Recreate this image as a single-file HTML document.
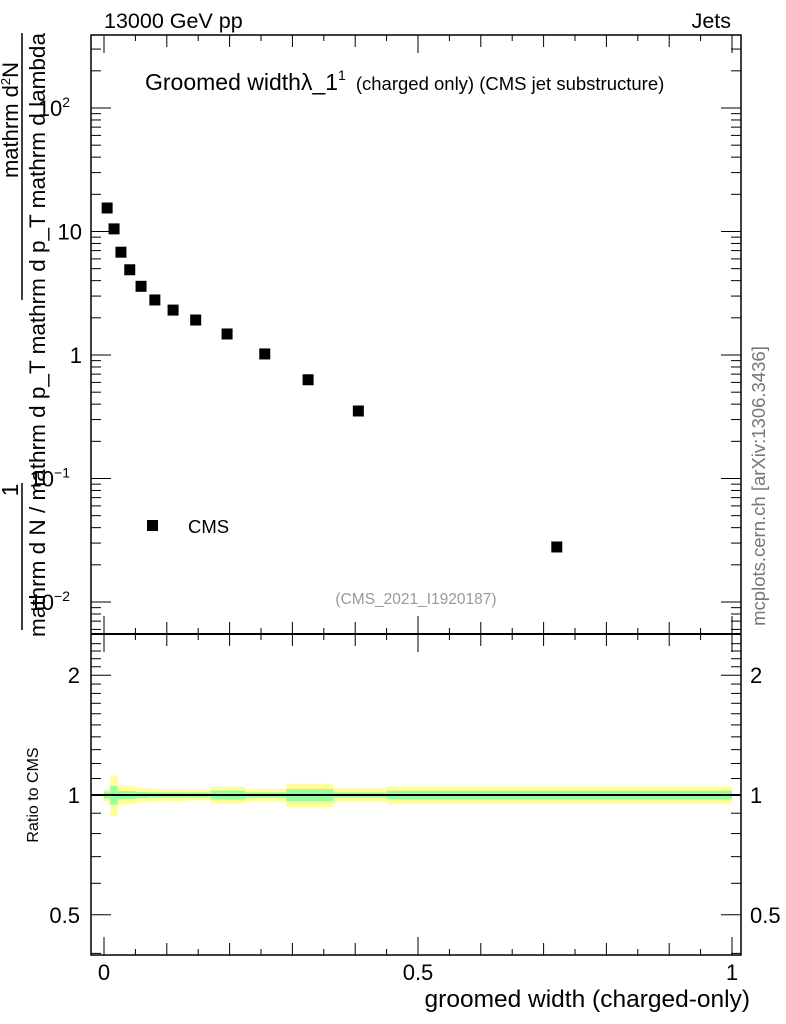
<!DOCTYPE html>
<html><head><meta charset="utf-8"><style>
body{margin:0;background:#fff}
svg{display:block;font-family:"Liberation Sans",sans-serif}
</style></head><body>
<svg id="chart" width="786" height="1024" viewBox="0 0 786 1024">
<g id="bands"></g>
<g id="axes"></g>
<g id="points"></g>
<text x="104" y="28" font-size="21.5">13000 GeV pp</text>
<text x="731" y="28" font-size="21.5" text-anchor="end">Jets</text>
<text x="145" y="90" font-size="23">Groomed widthλ_1<tspan font-size="14" dy="-10">1</tspan><tspan font-size="18.5" dy="10" dx="10">(charged only) (CMS jet substructure)</tspan></text>
<rect x="147" y="520" width="11" height="11" fill="#000"/>
<text x="188" y="533" font-size="18.5">CMS</text>
<text x="416" y="604" font-size="15.5" fill="#999" text-anchor="middle">(CMS_2021_I1920187)</text>
<text transform="translate(765,486) rotate(-90)" font-size="18.5" fill="#777" text-anchor="middle">mcplots.cern.ch [arXiv:1306.3436]</text>
<text x="750" y="1007" font-size="24.5" text-anchor="end">groomed width (charged-only)</text>
<text transform="translate(38,795) rotate(-90)" font-size="16" text-anchor="middle">Ratio to CMS</text>
<g>
<line x1="22" y1="483" x2="22" y2="630" stroke="#000" stroke-width="1.5"/>
<line x1="22" y1="33" x2="22" y2="300" stroke="#000" stroke-width="1.5"/>
<text transform="translate(18,490) rotate(-90)" font-size="23" text-anchor="middle">1</text>
<text transform="translate(18,120) rotate(-90)" font-size="22" text-anchor="middle">mathrm d<tspan font-size="13" dy="-8">2</tspan><tspan dy="8">N</tspan></text>
<text transform="translate(45,637) rotate(-90)" font-size="22" textLength="604" lengthAdjust="spacingAndGlyphs">mathrm d N / mathrm d p_T mathrm d p_T mathrm d lambda</text>
</g>
</svg>
<script>
const xs=[0.005,0.016,0.027,0.041,0.059,0.081,0.110,0.146,0.196,0.256,0.325,0.405,0.721];
const ys=[15.5,10.5,6.8,4.9,3.6,2.79,2.31,1.92,1.48,1.02,0.63,0.352,0.0279];
const binEdges=[0,0.01,0.022,0.035,0.05,0.07,0.095,0.13,0.17,0.225,0.29,0.365,0.45,1.0];
const yellowErr=[0.035,0.115,0.055,0.052,0.042,0.037,0.034,0.031,0.049,0.037,0.067,0.039,0.051];
const greenErr=[0.02,0.054,0.023,0.023,0.018,0.015,0.014,0.014,0.026,0.015,0.035,0.014,0.025];
const yTicks=[0.01,0.1,1,10,100];
const yTickLabels=["10","10","1","10","10"];
const yTickExp=["−2","−1","","","2"];
const rTicks=[0.5,1,2];
const xTicks=[0,0.5,1];
const NS='http://www.w3.org/2000/svg';
const L=91,R=741,T=35,M=634,B=955;
const X=v=>104+v*628;
const Y=v=>355-Math.log10(v)*123.5;
const RY=v=>795-Math.log10(v)*398;
function mk(tag,at,parent){const e=document.createElementNS(NS,tag);for(const k in at)e.setAttribute(k,at[k]);parent.appendChild(e);return e;}
const ax=document.getElementById('axes'),bd=document.getElementById('bands'),pt=document.getElementById('points');
for(let i=0;i<binEdges.length-1;i++){
 const x1=X(binEdges[i]),x2=X(binEdges[i+1]);
 const r1=mk('rect',{x:x1,y:RY(1+yellowErr[i]),width:x2-x1,height:RY(1-yellowErr[i])-RY(1+yellowErr[i]),fill:'#ffff99'},bd);
 
 
 const r2=mk('rect',{x:x1,y:RY(1+greenErr[i]),width:x2-x1,height:RY(1-greenErr[i])-RY(1+greenErr[i]),fill:'#99ff99'},bd);
 
 
}
const ln=mk('line',{x1:L,x2:R,y1:RY(1),y2:RY(1),stroke:'#000','stroke-width':2},ax);


mk('rect',{x:L,y:T,width:R-L,height:B-T,fill:'none',stroke:'#000','stroke-width':1.5},ax);
mk('line',{x1:L,x2:R,y1:M,y2:M,stroke:'#000','stroke-width':2},ax);
for(let d=-3;d<=2;d++){for(let m=1;m<10;m++){const v=m*Math.pow(10,d);const y=Y(v);if(y<T||y>M)continue;const len=m==1?20:10;
 mk('line',{x1:L,x2:L+len,y1:y,y2:y,stroke:'#000'},ax);mk('line',{x1:R,x2:R-len,y1:y,y2:y,stroke:'#000'},ax);}}
yTicks.forEach((v,i)=>{const t=mk('text',{x:yTickExp[i]?70:82,y:Y(v)+8,'font-size':22,'text-anchor':'end'},ax);
 
 
 t.textContent=yTickLabels[i];
 if(yTickExp[i]){const s=mk('tspan',{'font-size':14,dy:-9},t);s.textContent=yTickExp[i];}});
for(let v=0.4;v<=2.5;v+=0.1){const y=RY(v);if(y<M||y>B)continue;const maj=[0.5,1,2].some(q=>Math.abs(q-v)<1e-6);const len=maj?20:10;
 mk('line',{x1:L,x2:L+len,y1:y,y2:y,stroke:'#000'},ax);mk('line',{x1:R,x2:R-len,y1:y,y2:y,stroke:'#000'},ax);}
rTicks.forEach(v=>{const t=mk('text',{x:80,y:RY(v)+8,'font-size':22,'text-anchor':'end'},ax);t.textContent=String(v);
 
 
 const t2=mk('text',{x:750,y:RY(v)+8,'font-size':22},ax);t2.textContent=String(v);
 
 });
for(let k=0;k<=20;k++){const v=k*0.05;const x=X(v);const len=k%10==0?18:(k%2==0?12:6);
 [[T,1],[M,-1],[M,1],[B,-1]].forEach(([y0,s])=>mk('line',{x1:x,x2:x,y1:y0,y2:y0+s*len,stroke:'#000'},ax));}
xTicks.forEach(v=>{const t=mk('text',{x:X(v),y:980,'font-size':22,'text-anchor':'middle'},ax);t.textContent=String(v);
 
 });
xs.forEach((v,i)=>{const r=mk('rect',{x:X(v)-5.5,y:Y(ys[i])-5.5,width:11,height:11,fill:'#000'},pt);
 
 });
</script>
</body></html>
